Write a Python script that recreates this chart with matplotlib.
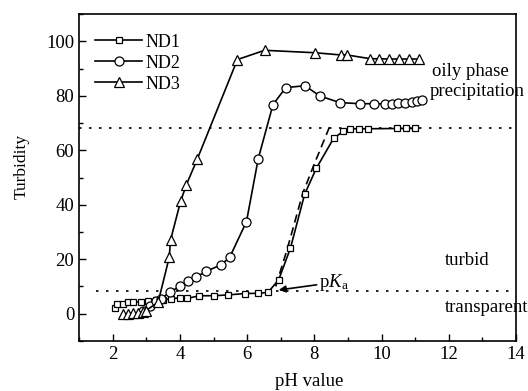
import numpy as np
import matplotlib
matplotlib.use('Agg')
import matplotlib.pyplot as plt
from matplotlib.ticker import MultipleLocator

plt.rcParams['font.family'] = ['Liberation Serif', 'DejaVu Serif']
plt.rcParams['mathtext.fontset'] = 'custom'
plt.rcParams['mathtext.rm'] = 'Liberation Serif'
plt.rcParams['mathtext.it'] = 'Liberation Serif:italic'

# ND1 (squares)
nd1_ph = [2.06, 2.13, 2.29, 2.46, 2.6, 2.85, 3.05, 3.3, 3.5, 3.73, 4.0, 4.22, 4.57, 5.01, 5.43,
          5.93, 6.33, 6.62, 6.94, 7.29, 7.71, 8.06, 8.58, 8.86, 9.07, 9.32, 9.59, 10.46, 10.74, 11.01]
nd1_tu = [2.0, 3.6, 3.6, 4.2, 4.2, 4.4, 4.8, 5.0, 5.2, 5.4, 5.9, 5.6, 6.6, 6.6, 6.9,
          7.4, 7.5, 7.8, 12.5, 24.1, 43.8, 53.4, 64.5, 66.9, 67.9, 67.9, 67.9, 68.0, 68.0, 68.0]
# ND1 second (dashed) trace
nd1b_ph = [6.85, 7.2, 7.65, 8.0, 8.45]
nd1b_tu = [10.0, 24.0, 44.0, 55.0, 68.5]

# ND2 (circles)
nd2_ph = [2.9, 3.1, 3.3, 3.45, 3.7, 4.0, 4.24, 4.49, 4.77, 5.23, 5.48, 5.98, 6.33, 6.77,
          7.15, 7.72, 8.17, 8.76, 9.37, 9.77, 10.1, 10.3, 10.5, 10.7, 10.9, 11.05, 11.2]
nd2_tu = [1.0, 3.0, 4.5, 5.5, 8.0, 10.0, 12.0, 13.5, 15.5, 18.0, 20.7, 33.8, 56.9, 76.8,
          83.0, 83.7, 79.9, 77.5, 77.1, 77.1, 77.0, 77.1, 77.3, 77.5, 77.8, 78.1, 78.4]

# ND3 (triangles)
nd3_ph = [2.3, 2.45, 2.6, 2.75, 2.9, 2.98, 3.35, 3.68, 3.72, 4.02, 4.19, 4.52, 5.71, 6.52,
          8.03, 8.78, 8.97, 9.67, 9.92, 10.21, 10.51, 10.81, 11.11]
nd3_tu = [0.0, 0.0, 0.2, 0.4, 0.5, 1.1, 4.2, 20.7, 27.1, 41.3, 47.3, 56.9, 93.3, 96.7,
          95.8, 95.0, 95.0, 93.6, 93.6, 93.5, 93.5, 93.5, 93.5]

fig = plt.figure(figsize=(5.28, 3.91), dpi=100)
ax = fig.add_axes([0.15, 0.128, 0.827, 0.836])

ax.axhline(68, color='k', ls=(0, (1.5, 4.5)), lw=1.2)
ax.plot([1.5, 14], [8.4, 8.4], color='k', ls=(0, (1.5, 4.5)), lw=1.2)

mk = dict(color='k', lw=1.2, mfc='white', mec='k', mew=0.9)
ax.plot(nd1b_ph, nd1b_tu, color='k', lw=1.2, ls=(0, (5, 3)))
ax.plot(nd1_ph, nd1_tu, marker='s', ms=5, label='ND1', **mk)
ax.plot(nd2_ph, nd2_tu, marker='o', ms=6.5, label='ND2', **mk)
ax.plot(nd3_ph, nd3_tu, marker='^', ms=7, label='ND3', **mk)

ax.annotate('p$K$$_{\\rm a}$', xy=(6.94, 8.7), xytext=(8.15, 11.5),
            fontsize=13.5, va='center',
            arrowprops=dict(arrowstyle='-|>', color='k', lw=1.2, shrinkA=0, shrinkB=0,
                            mutation_scale=10))
ax.text(11.5, 89, 'oily phase', fontsize=13.5, va='center')
ax.text(11.45, 81.4, 'precipitation', fontsize=13.5, va='center')
ax.text(11.9, 19.5, 'turbid', fontsize=13.5, va='center')
ax.text(11.9, 2.3, 'transparent', fontsize=13.5, va='center')

ax.set_xlim(1, 14)
ax.set_ylim(-10, 110)
ax.xaxis.set_major_locator(MultipleLocator(2))
ax.xaxis.set_minor_locator(MultipleLocator(1))
ax.yaxis.set_major_locator(MultipleLocator(20))
ax.yaxis.set_minor_locator(MultipleLocator(10))
ax.tick_params(which='both', direction='in', top=False, right=False, labelsize=13.5, width=1)
ax.tick_params(which='major', length=5)
ax.tick_params(which='minor', length=3)
for s in ax.spines.values():
    s.set_linewidth(1.2)
ax.set_xlabel('pH value', fontsize=13.5)
ax.set_ylabel('Turbidity', fontsize=12.5)
ax.xaxis.set_label_coords(0.526, -0.098)
ax.yaxis.set_label_coords(-0.113, 0.534)

leg = ax.legend(loc='upper left', bbox_to_anchor=(0.0, 0.99), frameon=False, fontsize=13,
                handlelength=2.6, handletextpad=0.2, labelspacing=0.22, borderaxespad=0.5)

fig.savefig('out.png', dpi=100)
